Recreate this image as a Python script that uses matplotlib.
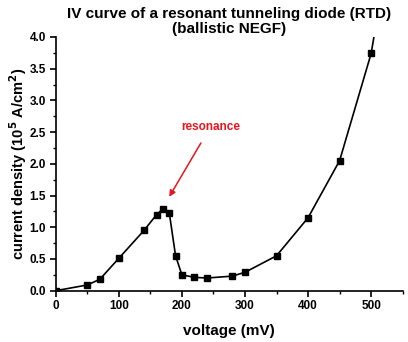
import numpy as np
import matplotlib.pyplot as plt
from matplotlib.ticker import MultipleLocator

plt.rcParams['font.family'] = ['Liberation Sans', 'DejaVu Sans']
plt.rcParams['font.weight'] = 'bold'

# IV data
voltage = [0, 50, 70, 100, 140, 160, 170, 180, 190, 200, 220, 240, 280, 300,
           350, 400, 450, 500, 550]
current = [0.0, 0.09, 0.18, 0.51, 0.95, 1.20, 1.29, 1.23, 0.55, 0.25, 0.21,
           0.20, 0.23, 0.29, 0.55, 1.15, 2.05, 3.74, 6.7]

fig = plt.figure(figsize=(4.08, 3.42), dpi=100)
ax = fig.add_axes([0.1365, 0.15, 0.8505, 0.742])

ax.plot(voltage, current, color='black', lw=1.2, marker='s', ms=5,
        markerfacecolor='black', markeredgecolor='black')

ax.set_xlim(0, 550)
ax.set_ylim(0, 4.0)
ax.xaxis.set_major_locator(MultipleLocator(100))
ax.xaxis.set_minor_locator(MultipleLocator(50))
ax.yaxis.set_major_locator(MultipleLocator(0.5))
ax.yaxis.set_minor_locator(MultipleLocator(0.25))
ax.yaxis.set_major_formatter(plt.FormatStrFormatter('%.1f'))

for side in ['top', 'right']:
    ax.spines[side].set_visible(False)
for side in ['left', 'bottom']:
    ax.spines[side].set_linewidth(1.2)

ax.tick_params(which='major', direction='out', length=4, width=1.2,
               labelsize=8.5, pad=3)
ax.tick_params(which='minor', direction='out', length=2.5, width=1.0)
for lbl in ax.get_xticklabels() + ax.get_yticklabels():
    lbl.set_fontweight('bold')

ax.set_xlabel('voltage (mV)', fontsize=11, fontweight='bold', labelpad=8)
ax.set_ylabel('current density (10$^5$ A/cm$^2$)', fontsize=10.5,
              fontweight='bold', labelpad=0)
ax.set_title('IV curve of a resonant tunneling diode (RTD)\n(ballistic NEGF)',
             fontsize=11, fontweight='bold', pad=3, linespacing=1.05)

ax.annotate('resonance', xy=(180, 1.48), xytext=(245, 2.58),
            color='#e8141e', fontsize=8.5, fontweight='bold',
            ha='center', va='center',
            arrowprops=dict(arrowstyle='-|>', color='#e8141e', lw=1.1,
                            shrinkA=6, shrinkB=0, mutation_scale=9))

fig.savefig('out.png', dpi=100)
